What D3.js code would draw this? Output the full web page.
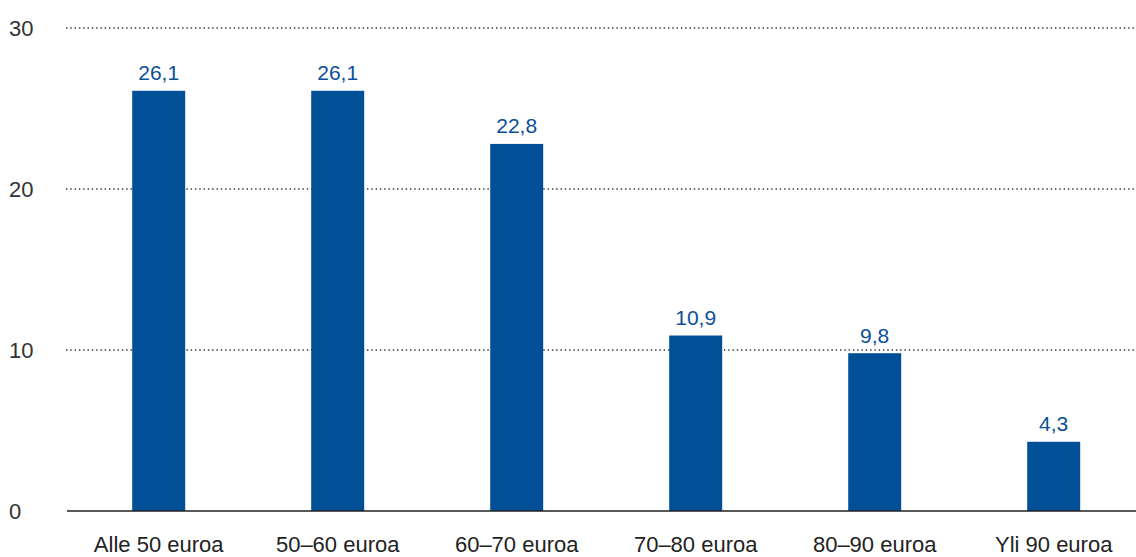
<!DOCTYPE html>
<html>
<head>
<meta charset="utf-8">
<script src="https://cdn.jsdelivr.net/npm/d3@7"></script>
<style>
  body { margin: 0; background: #fff; }
  svg { display: block; font-family: "Liberation Sans", Arial, sans-serif; }
</style>
</head>
<body>
<div class="chart-container"></div>
<script>
// Data
const categories = ["Alle 50 euroa", "50–60 euroa", "60–70 euroa", "70–80 euroa", "80–90 euroa", "Yli 90 euroa"];
const values = [26.1, 26.1, 22.8, 10.9, 9.8, 4.3];
const yTicks = [0, 10, 20, 30];

const width = 1136;
const height = 557;

const svg = d3.select(".chart-container")
  .append("svg")
  .attr("width", width)
  .attr("height", height);

// Scales
const x = d3.scaleBand()
  .domain(categories)
  .range([69.2, 69.2 + 6 * 179])
  .paddingInner(0.704)
  .paddingOuter(0.352);

const y = d3.scaleLinear()
  .domain([0, 30])
  .range([511, 28]);

// dotted gridlines
svg.append("g")
  .selectAll("line")
  .data(yTicks.filter(d => d > 0))
  .enter()
  .append("line")
  .attr("x1", 66)
  .attr("x2", width)
  .attr("y1", d => y(d))
  .attr("y2", d => y(d))
  .attr("stroke", "#333")
  .attr("stroke-width", 1.4)
  .attr("stroke-dasharray", "1.4,2.9");

// y tick labels, left aligned
svg.append("g")
  .selectAll("text")
  .data(yTicks)
  .enter()
  .append("text")
  .attr("x", 9)
  .attr("y", d => y(d) + 8)
  .attr("fill", "#333")
  .style("font-size", "22px")
  .text(d => d);

// bars
svg.append("g")
  .selectAll("rect")
  .data(values)
  .enter()
  .append("rect")
  .attr("x", (d, i) => x(categories[i]))
  .attr("width", x.bandwidth())
  .attr("y", d => y(d))
  .attr("height", d => y(0) - y(d))
  .attr("fill", "#004f97");

// value labels
svg.append("g")
  .selectAll("text")
  .data(values)
  .enter()
  .append("text")
  .attr("x", (d, i) => x(categories[i]) + x.bandwidth() / 2)
  .attr("y", d => y(d) - 10.5)
  .attr("text-anchor", "middle")
  .attr("fill", "#0b4f99")
  .style("font-size", "21px")
  .text(d => d.toFixed(1).replace(".", ","));

// baseline
svg.append("line")
  .attr("x1", 67)
  .attr("x2", width)
  .attr("y1", y(0))
  .attr("y2", y(0))
  .attr("stroke", "#222")
  .attr("stroke-width", 1.3);

// category labels
svg.append("g")
  .selectAll("text")
  .data(categories)
  .enter()
  .append("text")
  .attr("x", d => x(d) + x.bandwidth() / 2)
  .attr("y", 552)
  .attr("text-anchor", "middle")
  .attr("fill", "#222")
  .style("font-size", "22px")
  .text(d => d);
</script>
</body>
</html>
